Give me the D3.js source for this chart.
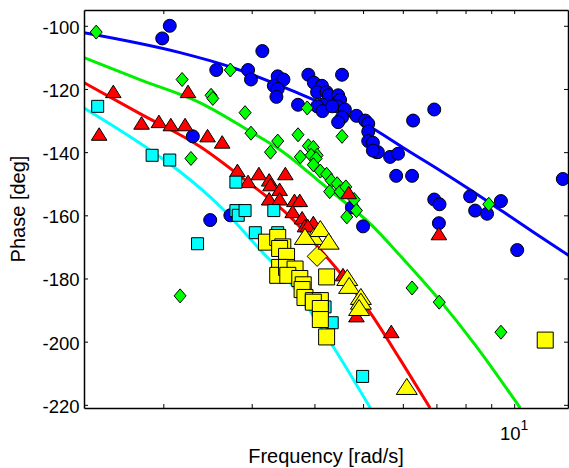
<!DOCTYPE html>
<html>
<head>
<meta charset="utf-8">
<script src="https://d3js.org/d3.v7.min.js"></script>
<style>
    body { margin: 0; background: #fff; }
    text { font-family: Arial, "Liberation Sans", sans-serif; }
</style>
</head>
<body>
<svg id="svg"></svg>
<script>
    // axis ticks
    const phaseTicks = [-220, -200, -180, -160, -140, -120, -100];
    const freqTicks = [2, 3, 4, 5, 6, 7, 8, 9, 10];

    // fitted curves (frequency rad/s, phase deg)
    const blueLineF = [1.39, 2.16, 2.72, 3.58, 3.98, 4.56, 5.24, 6.01, 6.99, 8.17, 9.51, 11.06, 12.87];
    const blueLineP = [-102.2, -108.5, -113.0, -120.3, -123.4, -127.5, -132.6, -138.6, -145.0, -151.9, -158.9, -165.9, -172.8];
    const greenLineF = [1.39, 1.80, 2.37, 2.94, 3.42, 4.30, 5.17, 6.01, 7.09, 8.36, 10.28];
    const greenLineP = [-110.1, -117.1, -124.4, -132.9, -139.3, -152.2, -162.7, -173.8, -186.7, -201.0, -221.0];
    const redLineF = [1.39, 1.80, 2.37, 2.91, 3.58, 4.11, 4.50, 5.17, 5.93, 6.80];
    const redLineP = [-118.0, -127.9, -138.3, -148.8, -160.5, -170.9, -178.2, -190.9, -205.7, -221.0];
    const cyanLineF = [1.39, 1.97, 2.16, 2.60, 3.08, 3.58, 4.36, 5.17];
    const cyanLineP = [-126.0, -141.5, -146.2, -157.3, -170.0, -181.4, -201.6, -221.0];

    // measured points [frequency, phase]
    const bluePts = [[2.06,-100],[1.99,-104],[2.29,-135],[3.15,-108],[2.55,-114],[2.95,-114],[2.99,-117],[3.38,-116],
        [3.47,-117],[3.32,-119],[3.38,-120],[3.36,-122.5],[3.89,-115.5],[3.99,-118],[4.14,-119],[4.05,-121],[4.23,-121],
        [4.27,-122],[4.46,-122],[4.54,-115.5],[4.50,-123.5],[4.44,-125.5],[3.71,-125],[4.15,-125],[4.05,-125.5],[4.15,-127],
        [4.34,-125.5],[4.60,-126.5],[4.54,-129],[4.46,-130.5],[4.85,-128.5],[5.05,-130],[5.12,-131],[5.12,-133.5],
        [5.12,-136.5],[5.23,-137],[5.32,-140],[5.35,-140],[5.66,-141.5],[5.87,-140.5],[6.29,-130],[6.93,-126.5],
        [5.82,-147.5],[6.26,-147.5],[6.93,-155],[7.10,-156.5],[7.08,-162.5],[8.17,-154],[8.36,-158.5],[8.83,-159.5],
        [9.41,-155.5],[10.14,-171],[12.5,-148.5],[2.48,-161.5],[2.72,-160],[5.00,-163.5],[4.75,-157.5],[5.23,-139.5]];
    const greenPts = [[1.47,-102],[2.18,-117],[2.27,-142],[2.72,-114],[2.49,-122],[2.51,-123],[2.91,-127.5],[2.99,-134],
        [3.38,-136.5],[3.27,-140],[3.71,-134.5],[3.87,-126],[3.89,-138],[3.98,-138.5],[4.05,-141],[3.75,-141.5],[4.54,-135],
        [3.94,-141],[4.03,-142],[3.98,-144],[4.11,-146],[4.23,-147],[4.32,-149],[4.44,-150],[4.29,-152.5],[4.50,-152.5],
        [4.62,-151],[4.80,-155],[4.85,-158.5],[4.64,-160.5],[2.16,-185.5],[8.90,-156.5],[6.26,-183],[7.09,-187.5],[9.41,-197]];
    const redPts = [[1.59,-121],[1.49,-134.5],[1.81,-131],[1.96,-130.5],[2.07,-131.5],[2.21,-131.5],[2.24,-121],[2.45,-135],
        [2.62,-137],[2.81,-146],[2.95,-149.5],[3.10,-147],[3.25,-149],[3.27,-150.5],[3.50,-147],[3.41,-152],[3.25,-155],
        [3.41,-155],[3.65,-155.5],[3.74,-155.5],[3.62,-159],[3.78,-161],[3.98,-162.5],[3.83,-163.5],[3.88,-163.5],
        [4.68,-153],[4.56,-179],[4.85,-192],[7.08,-166],[5.69,-197]];
    const cyanPts = [[1.48,-125.5],[1.90,-141],[2.06,-142.5],[2.34,-169],[2.79,-149.5],[2.79,-158.5],[2.82,-160],[2.91,-158.5],
        [3.32,-158.5],[3.05,-165.5],[3.38,-165.5],[4.34,-194],[4.99,-211],[4.2,-189]];
    const yellowSq = [[3.21,-168.5],[3.38,-167],[3.46,-170],[3.41,-170.5],[3.52,-173],[3.41,-176.5],[3.38,-179],[3.52,-176.5],
        [3.66,-177],[3.54,-179],[3.74,-180],[3.80,-182],[3.78,-183.5],[3.83,-186],[3.98,-187],[4.11,-187],[4.23,-179.5],
        [3.98,-187.5],[4.11,-189.5],[4.11,-193],[4.23,-198.5],[11.53,-199.5]];
    const yellowDia = [[4.05,-173]];
    const yellowTri = [[3.98,-167],[4.11,-164.5],[4.27,-168.5],[3.83,-167],[4.65,-180],[4.69,-182.5],[4.95,-186],
        [4.95,-187.5],[4.91,-189.5],[6.11,-214.5]];

    const width = 569, height = 468;
    const plotL = 84, plotR = 568, plotT = 10, plotB = 408;

    const svg = d3.select("#svg").attr("width", width).attr("height", height);

    const x = d3.scaleLog().domain([1.39, 12.8]).range([plotL, plotR]);
    const y = d3.scaleLinear().domain([-221, -95]).range([plotB, plotT]);

    svg.append("clipPath").attr("id", "clip")
        .append("rect").attr("x", plotL).attr("y", plotT).attr("width", plotR - plotL).attr("height", plotB - plotT);

    // curves
    const line = d3.line().x(d => x(d[0])).y(d => y(d[1])).curve(d3.curveMonotoneX);
    const curves = [
        [d3.zip(blueLineF, blueLineP), "#0000ff"],
        [d3.zip(greenLineF, greenLineP), "#00ee00"],
        [d3.zip(redLineF, redLineP), "#ff0000"],
        [d3.zip(cyanLineF, cyanLineP), "#00ffff"]
    ];
    svg.append("g").attr("clip-path", "url(#clip)")
        .selectAll("path").data(curves).enter().append("path")
        .attr("d", d => line(d[0]))
        .attr("fill", "none")
        .attr("stroke", d => d[1])
        .attr("stroke-width", 3);

    // marker shapes
    const circle = r => `M${-r},0A${r},${r} 0 1,0 ${r},0A${r},${r} 0 1,0 ${-r},0Z`;
    const square = s => `M${-s},${-s}H${s}V${s}H${-s}Z`;
    const diamond = (w, h) => `M0,${-h}L${w},0L0,${h}L${-w},0Z`;
    const triangle = (w, t, b) => `M0,${-t}L${w},${b}L${-w},${b}Z`;

    function markers(data, shape, fill) {
        svg.append("g").selectAll("path").data(data).enter().append("path")
            .attr("transform", d => `translate(${x(d[0])},${y(d[1])})`)
            .attr("d", shape)
            .attr("fill", fill)
            .attr("stroke", "#000")
            .attr("stroke-width", 1);
    }
    markers(bluePts, circle(6.5), "#0000ff");
    markers(greenPts, diamond(6, 7), "#00ff00");
    markers(redPts, triangle(7.8, 7, 5.5), "#ff0000");
    markers(cyanPts, square(6), "#00ffff");
    markers(yellowSq, square(8), "#ffff00");
    markers(yellowDia, diamond(10, 10), "#ffff00");
    markers(yellowTri, triangle(10.5, 9, 7), "#ffff00");

    // axes box
    const fmt = d => String(d);
    const gl = svg.append("g").attr("transform", `translate(${plotL},0)`)
        .call(d3.axisLeft(y).tickValues(phaseTicks).tickSize(-4).tickSizeOuter(0).tickPadding(4.5).tickFormat(fmt));
    svg.append("g").attr("transform", `translate(${plotR},0)`)
        .call(d3.axisRight(y).tickValues(phaseTicks).tickSize(-4).tickSizeOuter(0).tickFormat(""));
    svg.append("g").attr("transform", `translate(0,${plotB})`)
        .call(d3.axisBottom(x).tickValues(freqTicks).tickSize(-4).tickSizeOuter(0).tickFormat(""));
    svg.append("g").attr("transform", `translate(0,${plotT})`)
        .call(d3.axisTop(x).tickValues(freqTicks).tickSize(-4).tickSizeOuter(0).tickFormat(""));

    svg.selectAll(".domain").attr("stroke", "#000").attr("stroke-width", 1.5);
    svg.selectAll(".tick line").attr("stroke", "#000").attr("stroke-width", 1);
    gl.selectAll("text")
        .attr("font-family", "Arial, 'Liberation Sans', sans-serif")
        .attr("font-size", "18.5px")
        .attr("fill", "#000")
        .attr("dy", "0.4em");

    // 10^1 label
    const ten = svg.append("text")
        .attr("x", x(10)).attr("y", 440)
        .attr("text-anchor", "middle")
        .style("font-size", "18.5px");
    ten.append("tspan").text("10");
    ten.append("tspan").attr("dy", -10).style("font-size", "14px").text("1");

    // axis titles
    svg.append("text")
        .attr("x", (plotL + plotR) / 2).attr("y", 463)
        .attr("text-anchor", "middle")
        .style("font-size", "20px")
        .text("Frequency [rad/s]");
    svg.append("text")
        .attr("transform", `translate(24.5,${(plotT + plotB) / 2}) rotate(-90)`)
        .attr("text-anchor", "middle")
        .style("font-size", "20px")
        .text("Phase [deg]");
</script>
</body>
</html>
